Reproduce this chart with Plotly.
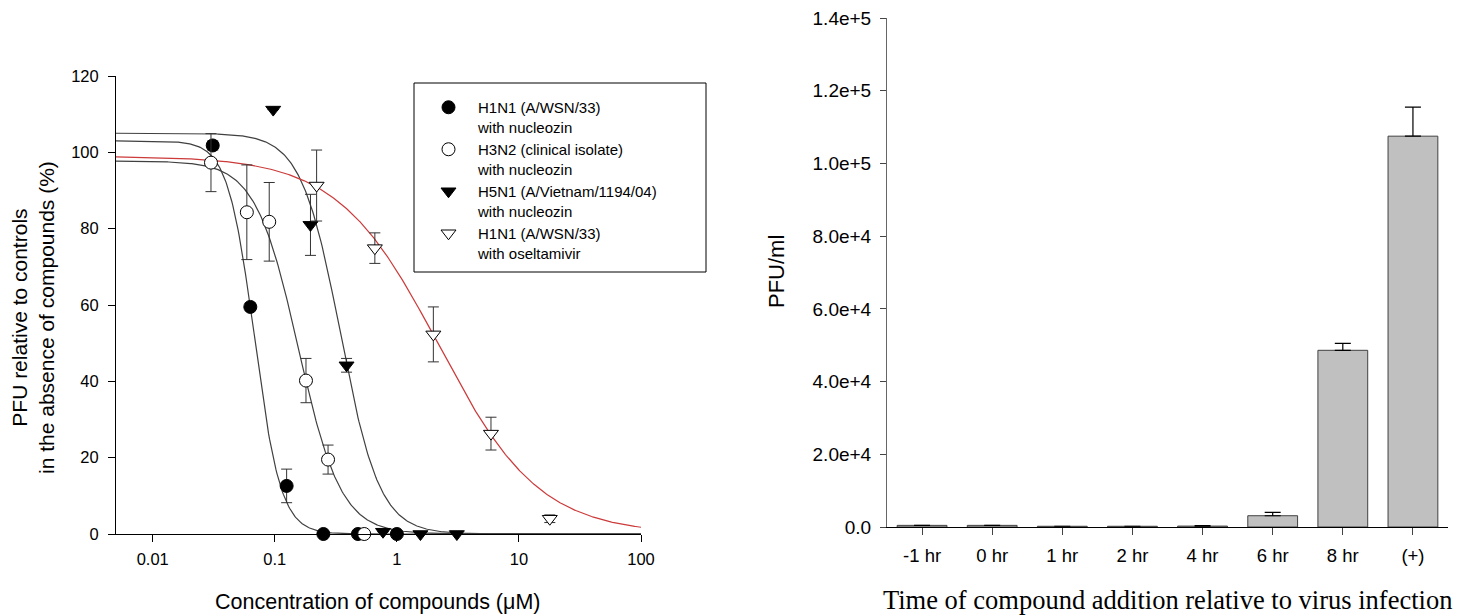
import numpy as np
import plotly.graph_objects as go

# ---------------- Left panel data (dose response) ----------------
h1_x = [0.031, 0.063, 0.125, 0.25, 0.48, 1.0]
h1_y = [101.8, 59.5, 12.6, 0.0, 0.0, 0.0]
h1_err = [1.2, 1.0, 4.4, 0.0, 0.0, 0.0]

h3_x = [0.030, 0.059, 0.090, 0.180, 0.273, 0.54]
h3_y = [97.3, 84.3, 81.8, 40.2, 19.5, 0.0]
h3_err = [7.6, 12.4, 10.3, 5.8, 3.8, 0.0]

h5_x = [0.097, 0.196, 0.387, 0.77, 1.56, 3.1]
h5_y = [111.2, 81.0, 44.2, 0.6, 0.0, 0.0]
h5_err = [0.0, 8.0, 1.8, 0.0, 0.0, 0.0]

os_x = [0.22, 0.66, 1.99, 5.9, 17.9]
os_y = [91.3, 74.9, 52.3, 26.3, 4.0]
os_err = [9.3, 4.0, 7.2, 4.3, 1.0]

series_names = [
    "H1N1 (A/WSN/33)<br>with nucleozin",
    "H3N2 (clinical isolate)<br>with nucleozin",
    "H5N1 (A/Vietnam/1194/04)<br>with nucleozin",
    "H1N1 (A/WSN/33)<br>with oseltamivir",
]

# fitted four-parameter logistic curves (top, bottom, EC50, Hill slope)
fit_top = [103.0, 97.7, 105.0, 99.0]
fit_bottom = [0.0, 0.0, 0.0, 0.0]
fit_ec50 = [0.068, 0.1556, 0.345, 2.2]
fit_hill = [4.0, 2.48, 2.7, 1.05]
fit_colors = ["#404040", "#404040", "#404040", "#cc3a3a"]

x_ticks = [0.01, 0.1, 1, 10, 100]
x_ticktext = ["0.01", "0.1", "1", "10", "100"]
y_ticks = [0, 20, 40, 60, 80, 100, 120]

# ---------------- Right panel data (time of addition) ----------------
time_labels = ["-1 hr", "0 hr", "1 hr", "2 hr", "4 hr", "6 hr", "8 hr", "(+)"]
pfu_values = [450, 450, 200, 200, 250, 3100, 48600, 107500]
pfu_err = [0, 0, 0, 0, 150, 900, 1900, 8000]
pfu_ticks = [0, 20000, 40000, 60000, 80000, 100000, 120000, 140000]
pfu_ticktext = ["0.0", "2.0e+4", "4.0e+4", "6.0e+4", "8.0e+4", "1.0e+5", "1.2e+5", "1.4e+5"]

W, H = 1476, 616
OFF = 8  # page body margin offset of the figure
SANS = "Liberation Sans, Arial, sans-serif"
SERIF = "Liberation Serif, Times New Roman, serif"

fig = go.Figure()

# fitted curves
xs = np.logspace(np.log10(0.005), 2, 500)
for top, bot, ec, hl, col in zip(fit_top, fit_bottom, fit_ec50, fit_hill, fit_colors):
    ys = bot + (top - bot) / (1 + (xs / ec) ** hl)
    fig.add_trace(go.Scatter(x=xs, y=ys, mode="lines", line=dict(color=col, width=1.2),
                             showlegend=False, hoverinfo="skip", xaxis="x", yaxis="y",
                             cliponaxis=False))

marker_styles = [
    dict(symbol="circle", color="black", size=13, line=dict(color="black", width=1)),
    dict(symbol="circle", color="white", size=13, line=dict(color="black", width=1)),
    dict(symbol="triangle-down", color="black", size=13, line=dict(color="black", width=1)),
    dict(symbol="triangle-down", color="white", size=13, line=dict(color="black", width=1)),
]
for name, xv, yv, ev, ms in zip(series_names,
                                [h1_x, h3_x, h5_x, os_x],
                                [h1_y, h3_y, h5_y, os_y],
                                [h1_err, h3_err, h5_err, os_err],
                                marker_styles):
    fig.add_trace(go.Scatter(
        x=xv, y=yv, mode="markers", name=name, marker=ms,
        error_y=dict(type="data", array=ev, visible=True, color="#333333", thickness=1, width=5.5),
        xaxis="x", yaxis="y", cliponaxis=False))

# bars
fig.add_trace(go.Bar(
    x=time_labels, y=pfu_values, width=0.71,
    marker=dict(color="#c0c0c0", line=dict(color="#404040", width=1)),
    error_y=dict(type="data", array=pfu_err, arrayminus=[0] * len(pfu_err), symmetric=False,
                 visible=True, color="black", thickness=1.2, width=8),
    showlegend=False, xaxis="x2", yaxis="y2"))

def px(x):
    return (x - OFF) / W

def py(y):
    return 1 - (y - OFF) / H

fig.update_layout(
    width=W, height=H, margin=dict(l=0, r=0, t=0, b=0, pad=0, autoexpand=False),
    paper_bgcolor="white", plot_bgcolor="white",
    font=dict(family=SANS, color="black"),
    xaxis=dict(domain=[px(116), px(641)], type="log", range=[np.log10(0.005), 2],
               tickvals=x_ticks, ticktext=x_ticktext, showgrid=False, zeroline=False,
               showline=True, linecolor="black", linewidth=1, ticks="outside", ticklen=7,
               tickcolor="black", tickfont=dict(size=16.5, family=SANS), ticklabelstandoff=3,
               anchor="y", automargin=False, ticklabeloverflow="allow"),
    yaxis=dict(domain=[py(534), py(76)], range=[0, 120], tickvals=y_ticks,
               showgrid=False, zeroline=False, showline=True, linecolor="black", linewidth=1,
               ticks="outside", ticklen=7, tickcolor="black", ticklabelstandoff=6,
               tickfont=dict(size=16.5, family=SANS), anchor="x", automargin=False,
               ticklabeloverflow="allow"),
    xaxis2=dict(domain=[px(887), px(1448)], type="category", range=[-0.5, 7.5],
                showgrid=False, zeroline=False, showline=True, linecolor="black", linewidth=1,
                ticks="outside", ticklen=7, tickcolor="#444444",
                tickfont=dict(size=18.5, family=SANS), ticklabelstandoff=5, anchor="y2",
                automargin=False, ticklabeloverflow="allow"),
    yaxis2=dict(domain=[py(527), py(18)], range=[0, 140000], tickvals=pfu_ticks,
                ticktext=pfu_ticktext, showgrid=False, zeroline=False, showline=True,
                linecolor="#666666", linewidth=1, ticks="outside", ticklen=6,
                tickcolor="#444444", tickfont=dict(size=19, family=SANS), anchor="x2",
                ticklabelstandoff=5, automargin=False, ticklabeloverflow="allow"),
    legend=dict(x=px(419), y=py(91), xanchor="left", yanchor="top",
                bgcolor="rgba(0,0,0,0)", borderwidth=0, font=dict(size=15, family=SANS),
                valign="top", itemwidth=49, tracegroupgap=0),
    showlegend=True,
)

# legend frame
fig.add_shape(type="rect", xref="paper", yref="paper", x0=px(414), x1=px(706),
              y0=py(272), y1=py(83), line=dict(color="black", width=1), fillcolor="rgba(0,0,0,0)")

# axis titles
fig.add_annotation(text="PFU relative to controls<br>in the absence of compounds (%)",
                   xref="paper", yref="paper", x=px(33), y=py(318), textangle=-90,
                   showarrow=False, xanchor="center", yanchor="middle",
                   font=dict(size=21, family=SANS))
fig.add_annotation(text="Concentration of compounds (\u03bcM)", xref="paper", yref="paper",
                   x=px(378), y=py(602), showarrow=False, xanchor="center", yanchor="middle",
                   font=dict(size=21.5, family=SANS))
fig.add_annotation(text="PFU/ml", xref="paper", yref="paper", x=px(776), y=py(272),
                   textangle=-90, showarrow=False, xanchor="center", yanchor="middle",
                   font=dict(size=22, family=SANS))
fig.add_annotation(text="Time of compound addition relative to virus infection",
                   xref="paper", yref="paper", x=px(1167), y=py(600), showarrow=False,
                   xanchor="center", yanchor="middle", font=dict(size=26.5, family=SERIF))

fig.write_html("out.html")
